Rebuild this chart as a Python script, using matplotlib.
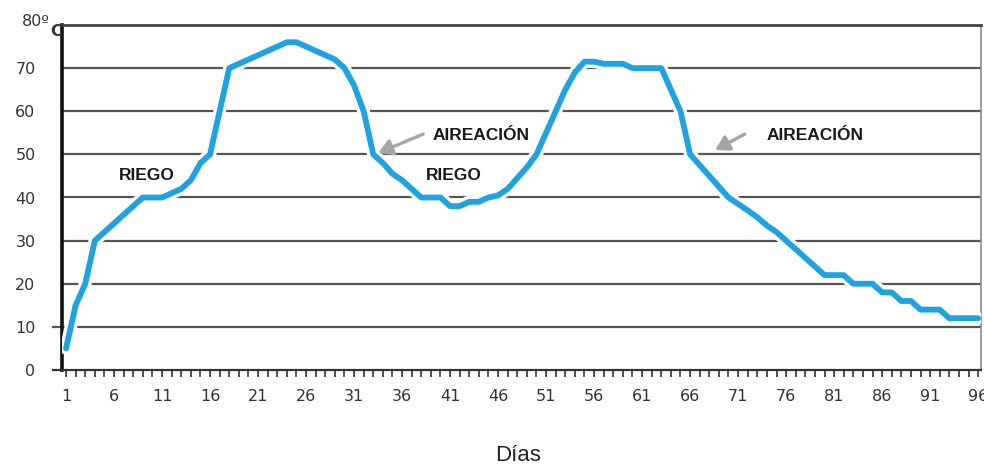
"""
Compost temperature curve (ºC per day) with irrigation / aeration notes.
"""
import matplotlib
matplotlib.use("Agg")
import matplotlib.pyplot as plt
from matplotlib.ticker import MultipleLocator, FixedLocator

# ── data ──────────────────────────────────────────────────────────────────────
days = list(range(1, 97))
temp = [
    5, 15, 20, 30, 32, 34, 36, 38, 40, 40,      # 1-10
    40, 41, 42, 44, 48, 50, 60, 70, 71, 72,     # 11-20
    73, 74, 75, 76, 76, 75, 74, 73, 72, 70,     # 21-30
    66, 60, 50, 48, 45.5, 44, 42, 40, 40, 40,   # 31-40
    38, 38, 39, 39, 40, 40.5, 42, 44.5, 47, 50, # 41-50
    55, 60, 65, 69, 71.5, 71.5, 71, 71, 71, 70, # 51-60
    70, 70, 70, 65, 60, 50, 47.5, 45, 42.5, 40, # 61-70
    38.5, 37, 35.4, 33.5, 32, 30, 28, 26, 24, 22, # 71-80
    22, 22, 20, 20, 20, 18, 18, 16, 16, 14,     # 81-90
    14, 14, 12, 12, 12, 12,                     # 91-96
]
x_labels = list(range(1, 97, 5))
y_ticks = [0, 10, 20, 30, 40, 50, 60, 70]

notes = [("RIEGO", 9.4, 45), ("AIREACIÓN", 44.2, 54.3),
         ("RIEGO", 41.4, 45), ("AIREACIÓN", 79.0, 54.3)]
arrows = [((33.5, 50.3), (38.2, 54.7)), ((68.6, 51.0), (71.7, 54.7))]

BLUE = "#1fa3e0"
GRID = "#555555"
TICK_FONT = ["DejaVu Sans"]


def main():
    plt.rcParams["font.family"] = ["Liberation Sans", "DejaVu Sans"]
    fig = plt.figure(figsize=(9.84, 4.68), dpi=100)
    ax = fig.add_axes([62 / 984, 98 / 468, 919 / 984, 345 / 468])

    ax.set_xlim(0.58, 96.3)
    ax.set_ylim(0, 80)

    # grid
    for v in y_ticks[1:]:
        ax.axhline(v, color=GRID, lw=1.6, zorder=1)

    # line with white halo
    ax.plot(days, temp, color="white", lw=9, solid_joinstyle="round",
            solid_capstyle="round", zorder=3)
    ax.plot(days, temp, color=BLUE, lw=4.2, solid_joinstyle="round",
            solid_capstyle="round", zorder=4)

    # notes
    for txt, x, y in notes:
        ax.text(x, y, txt, ha="center", va="center", fontsize=12.5,
                fontweight="bold", color="#1a1a1a", zorder=5)
    for head, tail in arrows:
        ax.annotate("", xy=head, xytext=tail,
                    arrowprops=dict(arrowstyle="-|>,head_length=0.6,head_width=0.35",
                                    color="#a6a6a6", lw=2.4, mutation_scale=14,
                                    shrinkA=0, shrinkB=0), zorder=5)

    # spines
    ax.spines["left"].set_linewidth(2.6)
    ax.spines["left"].set_color("#111111")
    ax.spines["top"].set_linewidth(2.0)
    ax.spines["top"].set_color("#444444")
    ax.spines["bottom"].set_linewidth(1.6)
    ax.spines["bottom"].set_color("#333333")
    ax.spines["right"].set_linewidth(1.2)
    ax.spines["right"].set_color("#8a8a8a")
    # little extensions at 0 and 10
    for v in (0, 10):
        ax.plot([-0.01, 0], [v, v], transform=ax.get_yaxis_transform(),
                color=GRID if v else "#333333", lw=1.6, clip_on=False)

    # ticks
    ax.xaxis.set_major_locator(FixedLocator(x_labels))
    ax.xaxis.set_minor_locator(MultipleLocator(1))
    ax.set_xticklabels([str(v) for v in x_labels], family=TICK_FONT)
    ax.tick_params(axis="x", which="both", direction="out", length=5,
                   width=1.2, color="#333333")
    ax.tick_params(axis="x", which="major", pad=9, labelsize=11.5,
                   labelcolor="#333333")
    ax.set_yticks(y_ticks)
    ax.set_yticklabels([str(v) for v in y_ticks], family=TICK_FONT)
    ax.tick_params(axis="y", length=0, pad=19, labelsize=11.5,
                   labelcolor="#333333")

    fig.text(50 / 984, 1 - 21 / 468, "80º", ha="right", va="center",
             fontsize=11.5, color="#333333", family=TICK_FONT)
    fig.text(50 / 984, 1 - 31 / 468, "C", ha="left", va="center",
             fontsize=11.5, fontweight="bold", color="#333333",
             family=TICK_FONT)

    ax.set_xlabel("Días", fontsize=16, color="#222222")
    ax.xaxis.set_label_coords(0.496, -0.249)
    ax.xaxis.label.set_va("center")

    fig.savefig("out.png", dpi=100)
    plt.close(fig)


if __name__ == "__main__":
    main()
